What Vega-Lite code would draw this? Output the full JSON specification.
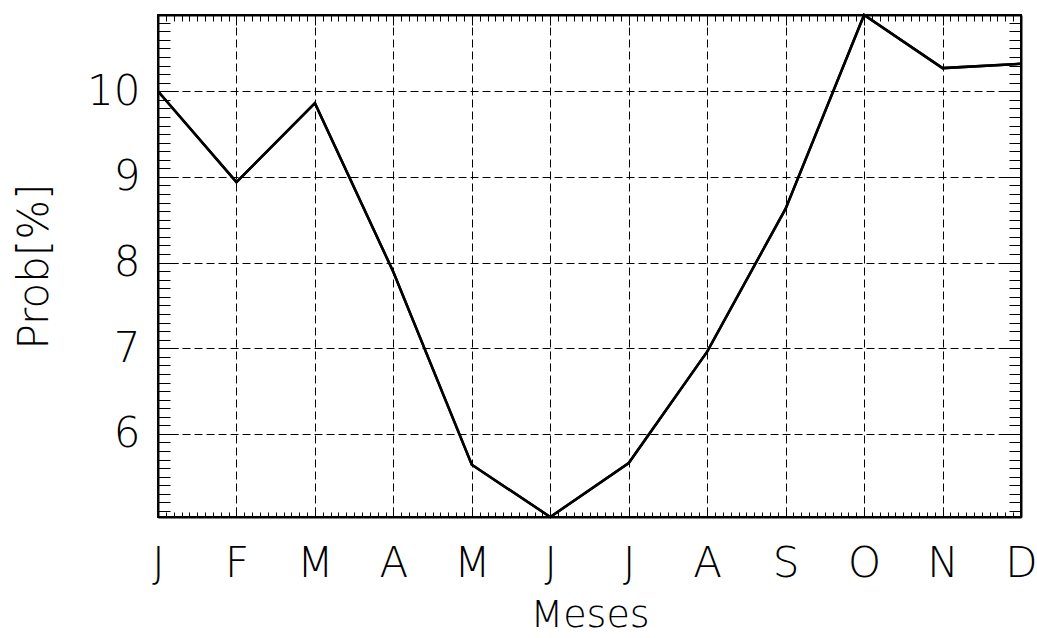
{
  "$schema": "https://vega.github.io/schema/vega-lite/v6.json",
  "width": 863,
  "height": 502,
  "autosize": "none",
  "padding": {"left": 158, "top": 15, "right": 16, "bottom": 121},
  "background": "white",
  "config": {"view": {"stroke": "black", "strokeWidth": 2}, "font": "DejaVu Sans"},
  "data": {"values": [
    {"mes": 0, "letra": "J", "prob": 10.0},
    {"mes": 1, "letra": "F", "prob": 8.94},
    {"mes": 2, "letra": "M", "prob": 9.86},
    {"mes": 3, "letra": "A", "prob": 7.89},
    {"mes": 4, "letra": "M", "prob": 5.64},
    {"mes": 5, "letra": "J", "prob": 5.03},
    {"mes": 6, "letra": "J", "prob": 5.66},
    {"mes": 7, "letra": "A", "prob": 6.96},
    {"mes": 8, "letra": "S", "prob": 8.63},
    {"mes": 9, "letra": "O", "prob": 10.89},
    {"mes": 10, "letra": "N", "prob": 10.27},
    {"mes": 11, "letra": "D", "prob": 10.32}
  ]},
  "layer": [
    {
      "mark": {"type": "line", "color": "black", "strokeWidth": 2.5},
      "encoding": {
        "x": {"field": "mes", "type": "quantitative",
          "scale": {"domain": [0, 11], "nice": false, "zero": false},
          "axis": {"orient": "bottom", "title": "Meses",
            "values": [0,0.1,0.2,0.3,0.4,0.5,0.6,0.7,0.8,0.9,1,1.1,1.2,1.3,1.4,1.5,1.6,1.7,1.8,1.9,2,2.1,2.2,2.3,2.4,2.5,2.6,2.7,2.8,2.9,3,3.1,3.2,3.3,3.4,3.5,3.6,3.7,3.8,3.9,4,4.1,4.2,4.3,4.4,4.5,4.6,4.7,4.8,4.9,5,5.1,5.2,5.3,5.4,5.5,5.6,5.7,5.8,5.9,6,6.1,6.2,6.3,6.4,6.5,6.6,6.7,6.8,6.9,7,7.1,7.2,7.3,7.4,7.5,7.6,7.7,7.8,7.9,8,8.1,8.2,8.3,8.4,8.5,8.6,8.7,8.8,8.9,9,9.1,9.2,9.3,9.4,9.5,9.6,9.7,9.8,9.9,10,10.1,10.2,10.3,10.4,10.5,10.6,10.7,10.8,10.9,11],
            "labelExpr": "datum.value == round(datum.value) ? ['J','F','M','A','M','J','J','A','S','O','N','D'][round(datum.value)] : ''",
            "labelFontSize": 42, "labelFontWeight": 200, "labelColor": "black", "labelPadding": 36,
            "labelOverlap": false, "labelFlush": false,
            "tickSize": {"condition": {"test": "datum.value == round(datum.value)", "value": -10}, "value": -5},
            "tickColor": "black", "tickWidth": 1,
            "domain": true, "domainColor": "black", "domainWidth": 2,
            "grid": true, "gridColor": "black", "gridWidth": 1, "gridDash": [8, 4],
            "gridOpacity": {"condition": {"test": "datum.value == round(datum.value)", "value": 1}, "value": 0},
            "titleFontSize": 38, "titleFontWeight": 200, "titleColor": "black", "titlePadding": 7}},
        "y": {"field": "prob", "type": "quantitative",
          "scale": {"domain": [5.03, 10.89], "nice": false, "zero": false},
          "axis": {"orient": "left", "title": "Prob[%]",
            "values": [5.1,5.2,5.3,5.4,5.5,5.6,5.7,5.8,5.9,6,6.1,6.2,6.3,6.4,6.5,6.6,6.7,6.8,6.9,7,7.1,7.2,7.3,7.4,7.5,7.6,7.7,7.8,7.9,8,8.1,8.2,8.3,8.4,8.5,8.6,8.7,8.8,8.9,9,9.1,9.2,9.3,9.4,9.5,9.6,9.7,9.8,9.9,10,10.1,10.2,10.3,10.4,10.5,10.6,10.7,10.8],
            "labelExpr": "datum.value == round(datum.value) ? '' + round(datum.value) : ''",
            "labelFontSize": 42, "labelFontWeight": 200, "labelColor": "black", "labelPadding": 38,
            "labelOverlap": false, "labelFlush": false,
            "tickSize": {"condition": {"test": "datum.value == round(datum.value)", "value": -20}, "value": -12},
            "tickColor": "black", "tickWidth": 1,
            "domain": true, "domainColor": "black", "domainWidth": 2,
            "grid": true, "gridColor": "black", "gridWidth": 1, "gridDash": [8, 4],
            "gridOpacity": {"condition": {"test": "datum.value == round(datum.value)", "value": 1}, "value": 0},
            "titleFontSize": 42, "titleFontWeight": 200, "titleColor": "black", "titlePadding": 30}}
      }
    },
    {
      "mark": {"type": "line", "color": "black", "strokeWidth": 2.5},
      "encoding": {
        "x": {"field": "mes", "type": "quantitative",
          "scale": {"domain": [0, 11], "nice": false, "zero": false},
          "axis": {"orient": "top", "title": null, "labels": false,
            "values": [0,0.1,0.2,0.3,0.4,0.5,0.6,0.7,0.8,0.9,1,1.1,1.2,1.3,1.4,1.5,1.6,1.7,1.8,1.9,2,2.1,2.2,2.3,2.4,2.5,2.6,2.7,2.8,2.9,3,3.1,3.2,3.3,3.4,3.5,3.6,3.7,3.8,3.9,4,4.1,4.2,4.3,4.4,4.5,4.6,4.7,4.8,4.9,5,5.1,5.2,5.3,5.4,5.5,5.6,5.7,5.8,5.9,6,6.1,6.2,6.3,6.4,6.5,6.6,6.7,6.8,6.9,7,7.1,7.2,7.3,7.4,7.5,7.6,7.7,7.8,7.9,8,8.1,8.2,8.3,8.4,8.5,8.6,8.7,8.8,8.9,9,9.1,9.2,9.3,9.4,9.5,9.6,9.7,9.8,9.9,10,10.1,10.2,10.3,10.4,10.5,10.6,10.7,10.8,10.9,11],
            "tickSize": {"condition": {"test": "datum.value == round(datum.value)", "value": -10}, "value": -6},
            "tickColor": "black", "tickWidth": 1,
            "domain": true, "domainColor": "black", "domainWidth": 2, "grid": false}},
        "y": {"field": "prob", "type": "quantitative",
          "scale": {"domain": [5.03, 10.89], "nice": false, "zero": false},
          "axis": {"orient": "right", "title": null, "labels": false,
            "values": [5.1,5.2,5.3,5.4,5.5,5.6,5.7,5.8,5.9,6,6.1,6.2,6.3,6.4,6.5,6.6,6.7,6.8,6.9,7,7.1,7.2,7.3,7.4,7.5,7.6,7.7,7.8,7.9,8,8.1,8.2,8.3,8.4,8.5,8.6,8.7,8.8,8.9,9,9.1,9.2,9.3,9.4,9.5,9.6,9.7,9.8,9.9,10,10.1,10.2,10.3,10.4,10.5,10.6,10.7,10.8],
            "tickSize": {"condition": {"test": "datum.value == round(datum.value)", "value": -20}, "value": -12},
            "tickColor": "black", "tickWidth": 1,
            "domain": true, "domainColor": "black", "domainWidth": 2, "grid": false}}
      }
    }
  ],
  "resolve": {"axis": {"x": "independent", "y": "independent"}}
}
